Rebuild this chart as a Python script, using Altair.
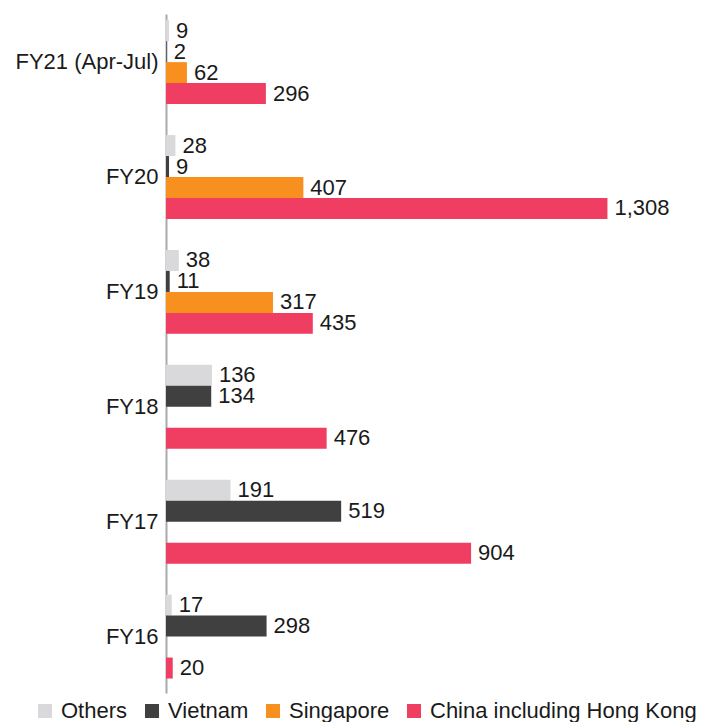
import altair as alt
import pandas as pd

years = ["FY21 (Apr-Jul)", "FY20", "FY19", "FY18", "FY17", "FY16"]
series = ["Others", "Vietnam", "Singapore", "China including Hong Kong"]
colors = ["#d9d9db", "#404040", "#f7901e", "#f03e62"]

others = [9, 28, 38, 136, 191, 17]
vietnam = [2, 9, 11, 134, 519, 298]
singapore = [62, 407, 317, None, None, None]
china = [296, 1308, 435, 476, 904, 20]

rows = []
for i, y in enumerate(years):
    for s, vals in zip(series, [others, vietnam, singapore, china]):
        v = vals[i]
        if v is not None:
            rows.append({"year": y, "series": s, "value": v})
df = pd.DataFrame(rows)

FONT = "Liberation Sans"

y_enc = alt.Y("year:N", sort=years,
              scale=alt.Scale(paddingInner=0.27, paddingOuter=0.09, align=0.3),
              axis=alt.Axis(title=None, ticks=False, labelFontSize=22, labelFont=FONT,
                            labelColor="#1a1a1a", labelPadding=8, domainColor="#aaaaaa",
                            domainWidth=2, labelLimit=300))
yoff = alt.YOffset("series:N", sort=series, scale=alt.Scale(domain=series, paddingInner=0, paddingOuter=0))
x_enc = alt.X("value:Q", scale=alt.Scale(domain=[0, 1600]), axis=None)

bars = alt.Chart(df).mark_bar().encode(
    x=x_enc, y=y_enc, yOffset=yoff,
    color=alt.Color("series:N", sort=series,
                    scale=alt.Scale(domain=series, range=colors),
                    legend=alt.Legend(title=None, orient="none", direction="horizontal",
                                      legendX=-132, legendY=686,
                                      symbolType="square", symbolSize=196,
                                      symbolStrokeWidth=0, labelFontSize=22,
                                      labelFont=FONT, labelColor="#1a1a1a",
                                      labelLimit=500,
                                      labelOffset=5, columnPadding=13)),
)

labels = alt.Chart(df).mark_text(align="left", baseline="middle", dx=7,
                                 fontSize=22, font=FONT, color="#1a1a1a").encode(
    x=x_enc, y=alt.Y("year:N", sort=years), yOffset=yoff,
    text=alt.Text("value:Q", format=",.0f"),
)

chart = (bars + labels).properties(
    width=540, height=679,
    background="white",
    padding={"left": 166, "top": 14, "right": 7, "bottom": 29},
    autosize=alt.AutoSizeParams(type="none"),
).configure_view(strokeWidth=0, stroke=None)

chart.save("out.html", embed_options={"renderer": "svg", "actions": False})
